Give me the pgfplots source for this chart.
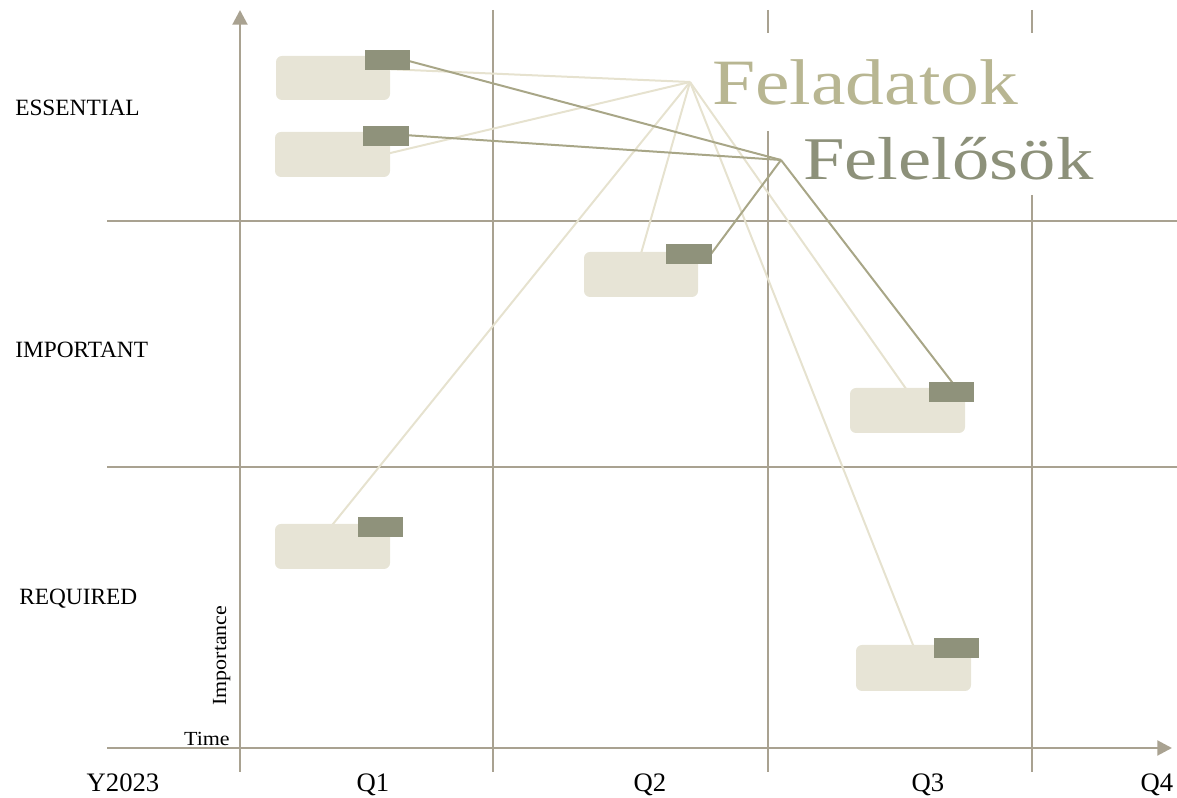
\documentclass[border=0pt]{standalone}
\usepackage{pgfplots}
\pgfplotsset{compat=1.18}
\usepackage{fontspec}
\setmainfont{Liberation Serif}
\newfontfamily\headfont[FakeStretch=1.2]{Liberation Serif}
\newfontfamily\subheadfont[FakeStretch=1.23]{Liberation Serif}
\newfontfamily\notefont[FakeStretch=1.1]{Liberation Serif}
\usetikzlibrary{arrows.meta}
\definecolor{gridc}{HTML}{A9A291}
\definecolor{boxc}{HTML}{E7E4D6}
\definecolor{tagc}{HTML}{8F927B}
\definecolor{lightln}{HTML}{E6E2CF}
\definecolor{darkln}{HTML}{A8A687}
\definecolor{feltc}{HTML}{B8B692}
\definecolor{felec}{HTML}{8D917A}

\begin{document}
\begin{tikzpicture}
\begin{axis}[hide axis, scale only axis, clip=false,
  x=0.75pt, y=0.75pt, xmin=0, xmax=1177, ymin=0, ymax=798]

% grid
\addplot[gridc, line width=1.6pt] coordinates {(107,577) (1177,577)};
\addplot[gridc, line width=1.6pt] coordinates {(107,331) (1177,331)};
\addplot[gridc, line width=1.6pt] coordinates {(493,788) (493,26)};
\addplot[gridc, line width=1.6pt] coordinates {(768,788) (768,765)};
\addplot[gridc, line width=1.6pt] coordinates {(768,667) (768,26)};
\addplot[gridc, line width=1.6pt] coordinates {(1032,788) (1032,765)};
\addplot[gridc, line width=1.6pt] coordinates {(1032,603) (1032,26)};

% axes
\addplot[gridc, line width=2.2pt, -{Triangle[length=11pt,width=11pt]}] coordinates {(107,50) (1172,50)};
\addplot[gridc, line width=2.2pt, -{Triangle[length=11pt,width=11pt]}] coordinates {(240,26) (240,788)};

% light links to Feladatok
\addplot[lightln, line width=1.5pt] coordinates {(385,729) (690,716)};
\addplot[lightln, line width=1.5pt] coordinates {(382,643) (690,716)};
\addplot[lightln, line width=1.5pt] coordinates {(640,541) (690,716)};
\addplot[lightln, line width=1.5pt] coordinates {(909,405) (690,716)};
\addplot[lightln, line width=1.5pt] coordinates {(915,148) (690,716)};
\addplot[lightln, line width=1.5pt] coordinates {(329,269) (690,716)};

% dark links to Felelosok
\addplot[darkln, line width=1.5pt] coordinates {(405,738) (781,638)};
\addplot[darkln, line width=1.5pt] coordinates {(404,663) (781,638)};
\addplot[darkln, line width=1.5pt] coordinates {(708,540) (781,638)};
\addplot[darkln, line width=1.5pt] coordinates {(955,412) (781,638)};

% boxes
\addplot[fill=boxc, draw=none, rounded corners=4.5pt] coordinates {(276,698) (390,698) (390,742) (276,742)} --cycle;
\addplot[fill=boxc, draw=none, rounded corners=4.5pt] coordinates {(275,621) (390,621) (390,666) (275,666)} --cycle;
\addplot[fill=boxc, draw=none, rounded corners=4.5pt] coordinates {(584,501) (698,501) (698,546) (584,546)} --cycle;
\addplot[fill=boxc, draw=none, rounded corners=4.5pt] coordinates {(850,365) (965,365) (965,410) (850,410)} --cycle;
\addplot[fill=boxc, draw=none, rounded corners=4.5pt] coordinates {(856,107) (971,107) (971,153) (856,153)} --cycle;
\addplot[fill=boxc, draw=none, rounded corners=4.5pt] coordinates {(275,229) (390,229) (390,274) (275,274)} --cycle;

% tags
\addplot[fill=tagc, draw=none] coordinates {(365,728) (410,728) (410,748) (365,748)} --cycle;
\addplot[fill=tagc, draw=none] coordinates {(363,652) (409,652) (409,672) (363,672)} --cycle;
\addplot[fill=tagc, draw=none] coordinates {(666,534) (712,534) (712,554) (666,554)} --cycle;
\addplot[fill=tagc, draw=none] coordinates {(929,396) (974,396) (974,416) (929,416)} --cycle;
\addplot[fill=tagc, draw=none] coordinates {(934,140) (979,140) (979,160) (934,160)} --cycle;
\addplot[fill=tagc, draw=none] coordinates {(358,261) (403,261) (403,281) (358,281)} --cycle;

% text
\node[anchor=base west, inner sep=0, font=\fontsize{17.5pt}{20pt}\selectfont] at (15,682) {ESSENTIAL};
\node[anchor=base west, inner sep=0, font=\fontsize{17.5pt}{20pt}\selectfont] at (15,440) {IMPORTANT};
\node[anchor=base west, inner sep=0, font=\fontsize{17.5pt}{20pt}\selectfont] at (19,193) {REQUIRED};
\node[anchor=base east, inner sep=0, font=\notefont\fontsize{15pt}{17pt}\selectfont] at (230,52) {Time};
\node[anchor=base west, rotate=90, inner sep=0, font=\notefont\fontsize{15pt}{17pt}\selectfont] at (226,92) {Importance};
\node[anchor=base, inner sep=0, font=\fontsize{20pt}{22pt}\selectfont] at (123,6) {Y2023};
\node[anchor=base, inner sep=0, font=\fontsize{20pt}{22pt}\selectfont] at (373,6) {Q1};
\node[anchor=base, inner sep=0, font=\fontsize{20pt}{22pt}\selectfont] at (650,6) {Q2};
\node[anchor=base, inner sep=0, font=\fontsize{20pt}{22pt}\selectfont] at (928,6) {Q3};
\node[anchor=base, inner sep=0, font=\fontsize{20pt}{22pt}\selectfont] at (1157,6) {Q4};
\node[anchor=base west, inner sep=0, text=feltc, font=\headfont\fontsize{48.5pt}{50pt}\selectfont] at (712,693) {Feladatok};
\node[anchor=base west, inner sep=0, text=felec, font=\subheadfont\fontsize{45.5pt}{47pt}\selectfont] at (803,618) {Felelősök};
\end{axis}
\pgfresetboundingbox
\path[use as bounding box] (0,0) rectangle (882.75pt,598.5pt);
\end{tikzpicture}
\end{document}
